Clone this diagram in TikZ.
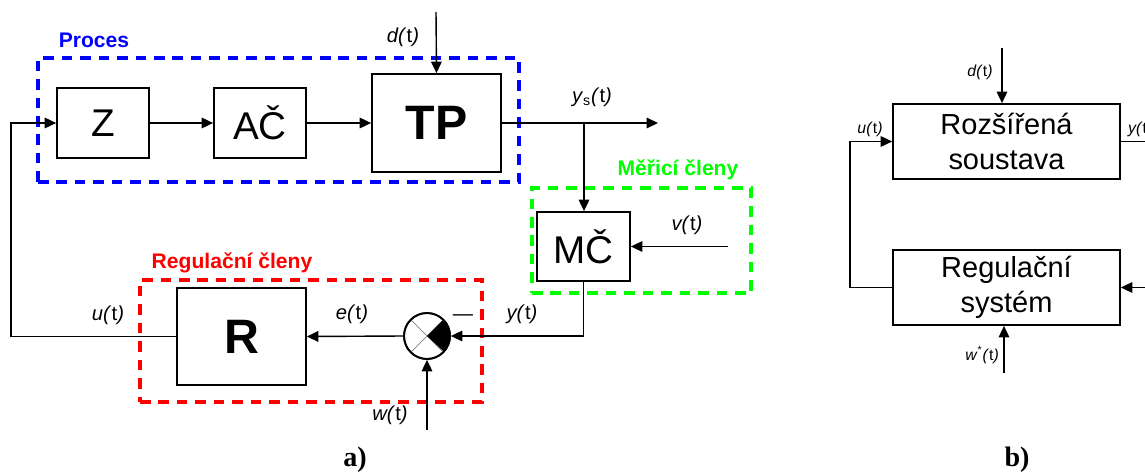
\documentclass[tikz,border=0pt]{standalone}
\usepackage{fontspec}
\setmainfont{Liberation Sans}
\newfontfamily\captfont{Liberation Serif}
\usetikzlibrary{arrows.meta,positioning,calc}
\newcommand{\sigt}[1]{\textit{#1(}t\textit{)}}

\begin{document}
\begin{tikzpicture}[x=0.02cm,y=-0.02cm,
    >={Triangle[length=6.5pt,width=6pt]},
    block/.style={draw,rectangle,line width=1pt,inner sep=0pt,font=\fontsize{22}{24}\selectfont},
    bigblock/.style={block,font=\fontsize{27.5}{30}\selectfont\bfseries},
    sysblock/.style={block,align=center,minimum width=4.54cm,minimum height=1.5cm,font=\fontsize{16.5}{20}\selectfont},
    group/.style={draw,rectangle,line width=1.8pt,dash pattern=on 6pt off 4.5pt,inner sep=0pt},
    grouplbl/.style={font=\fontsize{12}{14}\selectfont\bfseries},
    lbl/.style={font=\fontsize{11.5}{13}\selectfont},
    slbl/.style={font=\fontsize{9}{11}\selectfont},
    line/.style={line width=0.8pt}]
    \useasboundingbox (0,0) rectangle (1145,473);

    % Group frames
    \node[group,blue,minimum width=9.62cm,minimum height=2.48cm] (proces) at (278.5,120) {};
    \node[group,green,minimum width=4.38cm,minimum height=2.1cm] (meric) at (641.5,240.5) {};
    \node[group,red,minimum width=6.84cm,minimum height=2.44cm] (regul) at (311,341) {};
    \node[grouplbl,blue] (procesl) at (94,40) {Proces};
    \node[grouplbl,green] (mericl) at (678,170) {Měřicí členy};
    \node[grouplbl,red] (regull) at (232,263) {Regulační členy};

    % Blocks of a)
    \node[block,minimum width=1.84cm,minimum height=1.4cm] (z) at (103,123) {Z};
    \node[block,minimum width=1.84cm,minimum height=1.4cm] (ac) at (260,123) {AČ};
    \node[bigblock,minimum width=2.58cm,minimum height=1.96cm] (tp) at (436.5,123) {TP};
    \node[block,minimum width=1.86cm,minimum height=1.38cm] (mc) at (583.5,246.5) {MČ};
    \node[bigblock,minimum width=2.58cm,minimum height=1.94cm] (r) at (241.5,336.5) {R};
    \node[draw,circle,line width=1pt,minimum size=0.92cm,inner sep=0pt] (sum) at (427,336) {};
    \draw[gray,line width=0.4pt] (sum.north west) -- (sum.south east) (sum.south west) -- (sum.north east);
    \fill (sum.center) -- (sum.north east) arc[start angle=45,end angle=-45,radius=0.46cm] -- cycle;
    \node[draw,circle,line width=1pt,minimum size=0.92cm,inner sep=0pt] at (sum) {};

    % Free ends
    \coordinate (dtop) at (436,12);
    \coordinate (ysend) at (658,123);
    \coordinate (branch) at (584,123);
    \coordinate (vin) at (728,246.5);
    \coordinate (win) at (427,430);
    \coordinate (uleft) at (11,336.5);

    % Arrows of a)
    \draw[line,->] (dtop) -- (tp.north);
    \draw[line,->] (z) -- (ac);
    \draw[line,->] (ac) -- (tp);
    \draw[line,->] (tp.east) -- (ysend);
    \draw[line,->] (branch) -- (branch |- mc.north);
    \draw[line,->] (vin) -- (mc.east);
    \draw[line,->] (mc.south) |- (sum.east);
    \draw[line,->] (sum.west) -- (r.east);
    \draw[line,->] (win) -- (sum.south);
    \draw[line,->] (r.west) -- (uleft) |- (z.west);

    % Signal labels of a)
    \node[lbl] (dl) at (403,37) {\sigt{d}};
    \node[lbl] (ysl) at (592,97) {\textit{y}\textsubscript{s}\textit{(}t\textit{)}};
    \node[lbl] (vl) at (687,225) {\sigt{v}};
    \node[lbl] (yl) at (522,314) {\sigt{y}};
    \node[lbl] (el) at (352,314) {\sigt{e}};
    \node[lbl] (ul) at (108,315) {\sigt{u}};
    \node[lbl] (wl) at (390,415) {\sigt{w}};
    \node[lbl] (minus) at (463,318) {—};

    % Blocks of b)
    \node[sysblock] (rs) at (1006.5,141.5) {Rozšířená\\soustava};
    \node[sysblock] (rsys) at (1006.5,287.5) {Regulační\\systém};

    \coordinate (bdtop) at (1002,48);
    \coordinate (bleft) at (850,287.5);
    \coordinate (bout) at (1145,141.5);
    \coordinate (bin) at (1145,287.5);
    \coordinate (bwin) at (1004,373);

    \draw[line,->] (bdtop) -- (bdtop |- rs.north);
    \draw[line,->] (rsys.west) -- (bleft) |- (rs.west);
    \draw[line] (rs.east) -- (bout);
    \draw[line,->] (bin) -- (rsys.east);
    \draw[line,->] (bwin) -- (bwin |- rsys.south);

    \node[slbl] (bdl) at (980,72) {\sigt{d}};
    \node[slbl] (bul) at (870,129) {\sigt{u}};
    \node[slbl,anchor=west] (byl) at (1122,129) {\sigt{y}};
    \node[slbl] (bwl) at (982,355) {\textit{w}\textsuperscript{*}\textit{(}t\textit{)}};

    % Captions
    \node[font=\captfont\fontsize{16}{18}\selectfont\bfseries] (capa) at (355,460) {a)};
    \node[font=\captfont\fontsize{16}{18}\selectfont\bfseries] (capb) at (1017,460) {b)};
\end{tikzpicture}
\end{document}
